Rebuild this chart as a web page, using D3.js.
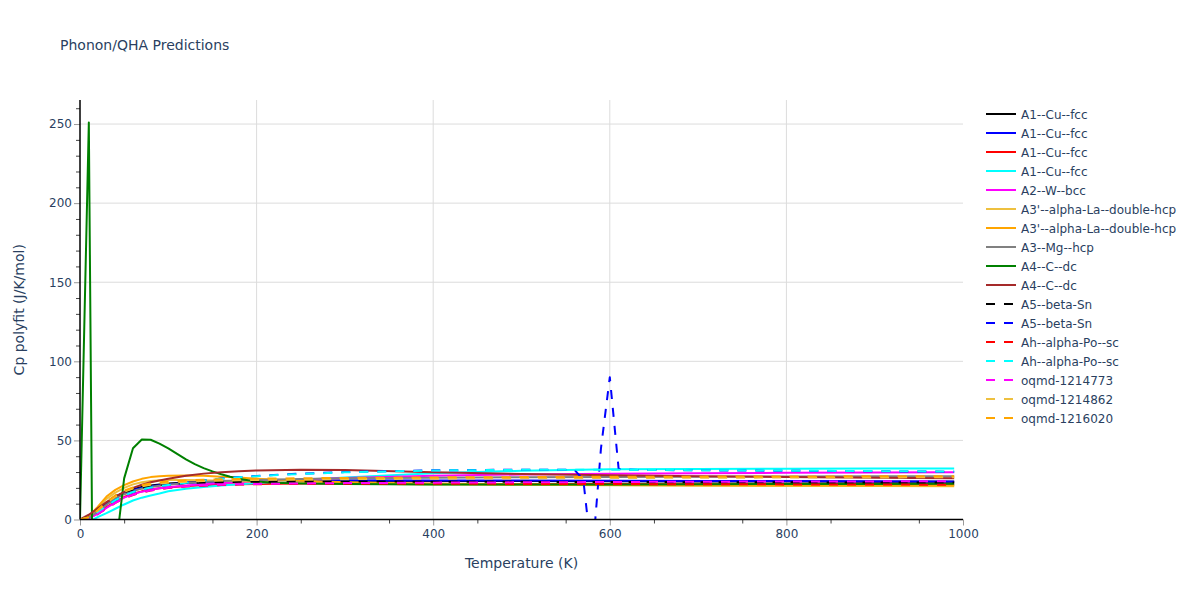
<!DOCTYPE html>
<html>
<head>
<meta charset="utf-8">
<script src="https://cdn.jsdelivr.net/npm/d3@7"></script>
<style>
  body { margin: 0; background: #fff; }
  svg { font-family: "DejaVu Sans", verdana, arial, sans-serif; }
</style>
</head>
<body>
<svg id="chart" width="1200" height="600"></svg>
<script>
// ---------- DATA ----------
const temps = [0,10,20,30,40,50,60,70,80,90,100,120,140,160,180,200,250,300,400,500,600,700,800,900,990];
const greenTemps = [0,10,20,30,40,50,60,70,80,90,100,110,120,130,140,150,160,170,180,190,200,220,250,300,400,500,600,700,800,900,990];
const sn2Temps = [0,10,20,30,40,50,60,70,80,90,100,120,140,160,180,200,250,300,400,500,560,570,580,590,600,610,620,700,800,900,990];

const cuFcc1 = [0,1.5,5.5,10.5,14.5,17.2,19.2,20.6,21.5,22.2,22.7,23.4,23.8,24.1,24.3,24.4,24.5,24.5,24.4,24.3,24.2,24.1,24.0,23.9,23.8];
const cuFcc2 = [0,1.2,5,9.8,13.8,16.6,18.6,20,21,21.7,22.3,23.1,23.6,24,24.2,24.4,24.6,24.7,24.7,24.6,24.5,24.4,24.3,24.2,24.1];
const cuFcc3 = [0,0.8,3.8,7.8,11.3,14.2,16.3,17.8,18.9,19.7,20.3,21.2,21.7,22.1,22.3,22.5,22.7,22.7,22.6,22.5,22.4,22.3,22.2,22.1,22.0];
const cuFcc4 = [-5,-1.5,1.5,4,6.8,9.5,12,13.8,15.2,16.4,17.8,19.5,20.6,21.5,22.3,23,24.8,26.6,29.3,30.8,31.7,32,32.1,32.2,32.2];
const wBcc = [0,0.8,3.5,7.3,10.8,13.8,16,17.6,18.8,19.7,20.4,21.5,22.3,23,23.6,24.1,25.3,26.3,27.6,28.5,28.9,29.3,29.5,29.7,29.8];
const laDhcp1 = [0,1.8,7,13,17,20,22.2,23.5,24.3,24.8,25,25,24.8,24.5,24.2,23.9,23.2,22.7,22.2,21.9,21.6,21.4,21.2,21.1,21.0];
const laDhcp2 = [0,2,8,14.5,18.7,21.7,24,25.7,26.8,27.3,27.6,27.8,27.6,27.1,26.5,25.8,24.5,23.6,22.6,22.1,21.8,21.7,21.6,21.5,21.5];
const mgHcp = [0,1.2,4.8,9.3,13.2,16,18,19.5,20.6,21.4,22,23,23.7,24.3,24.7,25,25.6,26,26.4,26.7,26.9,27.1,27.2,27.3,27.4];
const cDc1 = [0,251,-446,-230,-21,26,45,50.6,50.4,48,45,41.5,38,35,32.5,30.4,28.6,27,25.8,24.8,24,23.2,22.8,22.5,22.2,22.1,22.2,22.3,22.4,22.4,22.6];
const cDc2 = [0,3,7,11,14.5,17.5,20,22,23.5,24.7,25.8,27.6,29,29.9,30.5,31,31.5,31.3,29.8,28.8,28,27.4,26.9,26.4,26];
const snBeta1 = [0,1.6,6,11,14.8,17.3,19,20.3,21.2,21.9,22.4,23,23.4,23.6,23.8,23.9,24,24,23.9,23.8,23.7,23.6,23.5,23.4,23.4];
const snBeta2 = [0,1,4.3,8.5,12.2,15.2,17.4,19,20.2,21.1,21.8,23.3,24.7,25.9,26.8,27.5,29,30,31.1,31.5,31.4,25,-25,45,90,32,31.4,31.1,30.8,30.5,30.2];
const poSc1 = [0,0.7,3.3,7,10.5,13.4,15.5,17.1,18.3,19.2,19.9,20.8,21.4,21.8,22.1,22.3,22.5,22.6,22.6,22.5,22.4,22.3,22.2,22.1,22.0];
const poSc2 = [0,1,4.3,8.5,12.2,15.2,17.4,19,20.2,21.1,21.8,23.2,24.6,25.8,26.7,27.4,28.8,29.8,31,31.4,31.4,31.2,30.9,30.6,30.3];
const oqmd1214773 = [0,0.7,3.3,7,10.5,13.5,15.6,17.2,18.4,19.3,20,21,21.6,22,22.3,22.5,22.8,23,23.3,23.5,23.7,23.9,24,24.1,24.2];
const oqmd1214862 = [0,1.4,5.5,10.5,14.5,17.5,19.6,21,22,22.7,23.2,23.9,24.3,24.6,24.8,25,25.3,25.5,25.8,26,26.2,26.4,26.5,26.6,26.7];
const oqmd1216020 = [0,1.5,6,11.2,15.2,18.2,20.3,21.8,22.8,23.5,24,24.7,25.1,25.4,25.6,25.8,26.1,26.3,26.6,26.8,27,27.1,27.2,27.3,27.4];

const seriesNames = ["A1--Cu--fcc","A1--Cu--fcc","A1--Cu--fcc","A1--Cu--fcc","A2--W--bcc",
  "A3'--alpha-La--double-hcp","A3'--alpha-La--double-hcp","A3--Mg--hcp","A4--C--dc","A4--C--dc",
  "A5--beta-Sn","A5--beta-Sn","Ah--alpha-Po--sc","Ah--alpha-Po--sc","oqmd-1214773","oqmd-1214862","oqmd-1216020"];
const seriesValues = [cuFcc1,cuFcc2,cuFcc3,cuFcc4,wBcc,laDhcp1,laDhcp2,mgHcp,cDc1,cDc2,snBeta1,snBeta2,poSc1,poSc2,oqmd1214773,oqmd1214862,oqmd1216020];
const seriesTemps = [temps,temps,temps,temps,temps,temps,temps,temps,greenTemps,temps,temps,sn2Temps,temps,temps,temps,temps,temps];
const seriesColors = ["black","blue","red","cyan","magenta","#EEC03F","orange","gray","green","brown",
  "black","blue","red","cyan","magenta","#EEC03F","orange"];
const seriesDashed = [false,false,false,false,false,false,false,false,false,false,true,true,true,true,true,true,true];

const xTicks = [0,200,400,600,800,1000];
const yTicks = [0,50,100,150,200,250];
const titleText = "Phonon/QHA Predictions";
const xLabel = "Temperature (K)";
const yLabel = "Cp polyfit (J/K/mol)";

// ---------- LAYOUT ----------
const svg = d3.select("#chart");
const L = 80, R = 963, T = 100, B = 519.5;
const x = d3.scaleLinear().domain([0, 1000]).range([L, R]);
const y = d3.scaleLinear().domain([0, 265.2]).range([B, T]);
const textColor = "#2a3f5f";
const fontFam = '"DejaVu Sans", verdana, arial, sans-serif';

svg.append("rect").attr("width",1200).attr("height",600).attr("fill","#fff");

// grid
const grid = svg.append("g");
grid.selectAll("line.gx").data(xTicks.filter(d => d > 0 && d < 1000)).enter().append("line")
  .attr("x1", d => x(d)).attr("x2", d => x(d)).attr("y1", T).attr("y2", B)
  .attr("stroke", "#dcdcdc").attr("stroke-width", 1);
grid.selectAll("line.gy").data(yTicks.filter(d => d > 0)).enter().append("line")
  .attr("x1", L).attr("x2", R).attr("y1", d => y(d)).attr("y2", d => y(d))
  .attr("stroke", "#dcdcdc").attr("stroke-width", 1);

// clip
svg.append("defs").append("clipPath").attr("id","plotclip")
  .append("rect").attr("x", L).attr("y", T).attr("width", R - L).attr("height", B - T);

const lineGen = d3.line().x(d => x(d[0])).y(d => y(d[1]));
const plot = svg.append("g").attr("clip-path","url(#plotclip)");
seriesValues.forEach((vals, i) => {
  const pts = seriesTemps[i].map((t, j) => [t, vals[j]]);
  plot.append("path").datum(pts)
    .attr("d", lineGen)
    .attr("fill","none")
    .attr("stroke", seriesColors[i])
    .attr("stroke-width", 2)
    .attr("stroke-linejoin","round")
    .attr("stroke-dasharray", seriesDashed[i] ? "9,9" : null);
});

// axes
const xAxis = d3.axisBottom(x).tickValues(xTicks).tickSize(6).tickPadding(4).tickFormat(d3.format("d"));
const xMinor = d3.axisBottom(x).tickValues(d3.range(50, 1001, 100)).tickSize(4).tickFormat("");
const yAxis = d3.axisLeft(y).tickValues(yTicks).tickSize(6).tickPadding(2).tickFormat(d3.format("d"));
const yMinor = d3.axisLeft(y).tickValues(d3.range(10, 265, 10).filter(v => v % 50 !== 0)).tickSize(4).tickFormat("");

function styleAxis(g, tickColor) {
  g.select(".domain").remove();
  g.selectAll(".tick line").attr("stroke", tickColor);
  g.selectAll(".tick text").attr("fill", textColor).style("font-size","12px")
    .style("font-family", fontFam);
}
const gxm = svg.append("g").attr("transform",`translate(0,${B})`).call(xMinor); styleAxis(gxm, "#444");
const gx = svg.append("g").attr("transform",`translate(0,${B})`).call(xAxis); styleAxis(gx, "#999");
const gym = svg.append("g").attr("transform",`translate(${L},0)`).call(yMinor); styleAxis(gym, "#444");
const gy = svg.append("g").attr("transform",`translate(${L},0)`).call(yAxis); styleAxis(gy, "#999");

svg.append("line").attr("x1", L).attr("x2", R).attr("y1", B).attr("y2", B).attr("stroke","black").attr("stroke-width",1.5);
svg.append("line").attr("x1", L).attr("x2", L).attr("y1", T).attr("y2", B).attr("stroke","black").attr("stroke-width",1.5);

// titles
svg.append("text").attr("x", 60).attr("y", 50).attr("fill", textColor)
  .style("font-size","14px").text(titleText);
svg.append("text").attr("x", (L + R) / 2).attr("y", 568).attr("text-anchor","middle")
  .attr("fill", textColor).style("font-size","14px").text(xLabel);
svg.append("text").attr("transform", `translate(24,${(T + B) / 2}) rotate(-90)`)
  .attr("text-anchor","middle").attr("fill", textColor).style("font-size","14px").text(yLabel);

// legend
const leg = svg.append("g");
seriesNames.forEach((name, i) => {
  const ly = 114 + i * 19;
  leg.append("line").attr("x1", 986).attr("x2", 1016).attr("y1", ly).attr("y2", ly)
    .attr("stroke", seriesColors[i]).attr("stroke-width", 2)
    .attr("stroke-dasharray", seriesDashed[i] ? "9,9" : null);
  leg.append("text").attr("x", 1021).attr("y", ly + 4.5).attr("fill", textColor)
    .style("font-size","12px").text(name);
});
</script>
</body>
</html>
